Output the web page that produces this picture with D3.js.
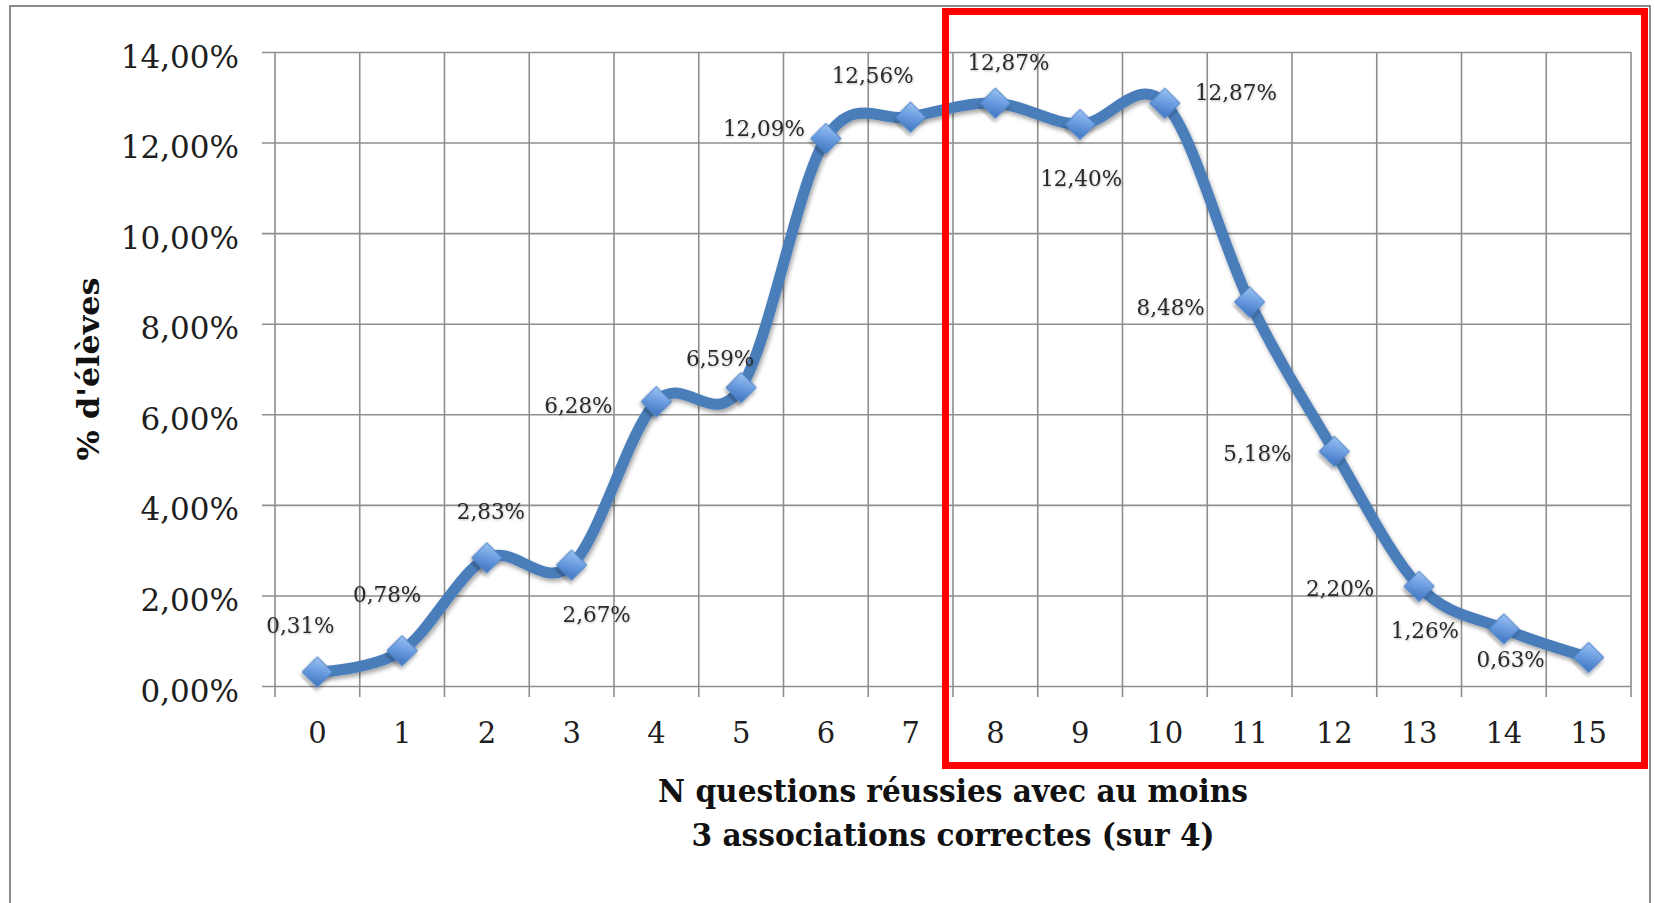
<!DOCTYPE html>
<html>
<head>
<meta charset="utf-8">
<script src="https://cdn.jsdelivr.net/npm/d3@7"></script>
<style>
  html, body { margin: 0; padding: 0; background: #fff; }
  svg { display: block; }
</style>
</head>
<body>
<svg id="chart" width="1655" height="903"></svg>
<script>
// ---- data ----
const categories = ["0","1","2","3","4","5","6","7","8","9","10","11","12","13","14","15"];
const values = [0.31, 0.78, 2.83, 2.67, 6.28, 6.59, 12.09, 12.56, 12.87, 12.40, 12.87, 8.48, 5.18, 2.20, 1.26, 0.63];
const valueLabels = ["0,31%","0,78%","2,83%","2,67%","6,28%","6,59%","12,09%","12,56%","12,87%","12,40%","12,87%","8,48%","5,18%","2,20%","1,26%","0,63%"];
const yTicks = [0, 2, 4, 6, 8, 10, 12, 14];
const yTickLabels = ["0,00%","2,00%","4,00%","6,00%","8,00%","10,00%","12,00%","14,00%"];
const yTitle = "% d'élèves";
const xTitleLines = ["N questions réussies avec au moins", "3 associations correctes (sur 4)"];
const highlightFrom = "8";   // highlighted range (red frame) starts at this category

// label placement offsets (pixels, relative to each point)
const labelOffsets = [[-17,-47],[-15,-57],[4,-47],[25,49],[-78,3],[-21,-30],[-62,-10],[-38,-42],
                      [13,-41],[1,54],[71,-11],[-79,5],[-77,2],[-79,2],[-79,1],[-78,2]];

// ---- layout ----
const svg = d3.select("#chart");
const plot = { left: 275, right: 1631, top: 52, bottom: 686 };
const gridColor = "#8e8e8e";
const serif = "'DejaVu Serif', 'Liberation Serif', serif";

const x = d3.scaleBand().domain(categories).range([plot.left, plot.right]).padding(0);
const y = d3.scaleLinear().domain([0, 14]).range([plot.bottom, plot.top]);

// defs
const defs = svg.append("defs");
const grad = defs.append("linearGradient").attr("id", "mk").attr("x1", "0").attr("y1", "0").attr("x2", "0.6").attr("y2", "1");
grad.append("stop").attr("offset", "0%").attr("stop-color", "#9cc2f2");
grad.append("stop").attr("offset", "55%").attr("stop-color", "#6b9de0");
grad.append("stop").attr("offset", "100%").attr("stop-color", "#4a7ec8");
const sh = defs.append("filter").attr("id", "shadow").attr("x", "-20%").attr("y", "-20%").attr("width", "140%").attr("height", "140%");
sh.append("feDropShadow").attr("dx", 1.5).attr("dy", 3).attr("stdDeviation", 2.2).attr("flood-color", "#000").attr("flood-opacity", 0.35);
const tsh = defs.append("filter").attr("id", "tshadow").attr("x", "-10%").attr("y", "-30%").attr("width", "120%").attr("height", "160%");
tsh.append("feDropShadow").attr("dx", 0.6).attr("dy", 1).attr("stdDeviation", 0.8).attr("flood-color", "#000").attr("flood-opacity", 0.25);

// outer frame
svg.append("path")
  .attr("d", "M10,903 L10,6 L1650,6 L1650,903")
  .attr("fill", "none").attr("stroke", "#8a8a8a").attr("stroke-width", 2);

// horizontal gridlines + y axis
const yAxis = d3.axisLeft(y)
  .tickValues(yTicks)
  .tickFormat((d, i) => yTickLabels[i])
  .tickSize(-(plot.right - plot.left) - 13)
  .tickPadding(0);
const gy = svg.append("g").attr("transform", `translate(${plot.right},0)`).call(yAxis);
gy.select(".domain").remove();
gy.selectAll(".tick line").attr("stroke", gridColor).attr("stroke-width", 1.6)
  .attr("x1", 0).attr("x2", -(plot.right - plot.left) - 13).attr("transform", null);
gy.selectAll(".tick text")
  .attr("x", -(plot.right - 239)).attr("dy", null).attr("y", 15)
  .attr("text-anchor", "end")
  .attr("font-family", serif).attr("font-size", 31).attr("fill", "#1e1e1e");

// vertical gridlines at band boundaries (plus ticks below axis)
const boundaries = categories.map(c => x(c)).concat([x(categories[categories.length - 1]) + x.bandwidth()]);
svg.append("g").selectAll("line").data(boundaries).join("line")
  .attr("x1", d => d).attr("x2", d => d)
  .attr("y1", plot.top).attr("y2", plot.bottom + 11)
  .attr("stroke", gridColor).attr("stroke-width", 1.6);

// x axis labels
const xAxis = d3.axisBottom(x).tickSize(0).tickPadding(0);
const gx = svg.append("g").attr("transform", `translate(0,${plot.bottom})`).call(xAxis);
gx.select(".domain").remove();
gx.selectAll(".tick text").attr("dy", null).attr("y", 57)
  .attr("font-family", serif).attr("font-size", 29).attr("fill", "#1e1e1e");

// smooth line
const cx = (c) => x(c) + x.bandwidth() / 2;
const pts = categories.map((c, i) => [cx(c), y(values[i])]);
svg.append("path")
  .datum(pts)
  .attr("d", d3.line().curve(d3.curveCatmullRom.alpha(0)))
  .attr("fill", "none").attr("stroke", "#4a7ebb").attr("stroke-width", 11)
  .attr("stroke-linecap", "round").attr("stroke-linejoin", "round")
  .attr("filter", "url(#shadow)");

// diamond markers
const diamond = d3.symbol().type(d3.symbolSquare).size(21.5 * 21.5);
svg.append("g").selectAll("path").data(pts).join("path")
  .attr("d", diamond)
  .attr("transform", d => `translate(${d[0]},${d[1]}) rotate(45)`)
  .attr("fill", "url(#mk)").attr("stroke", "#4f84c6").attr("stroke-width", 1)
  .attr("filter", "url(#shadow)");

// data labels
svg.append("g").selectAll("text").data(pts).join("text")
  .attr("x", (d, i) => d[0] + labelOffsets[i][0])
  .attr("y", (d, i) => d[1] + labelOffsets[i][1] + 8)
  .attr("text-anchor", "middle")
  .attr("font-family", serif).attr("font-size", 21.5).attr("fill", "#2a2a2a")
  .attr("filter", "url(#tshadow)")
  .text((d, i) => valueLabels[i]);

// axis titles
svg.append("text")
  .attr("transform", "translate(99,369) rotate(-90)")
  .attr("text-anchor", "middle")
  .attr("font-family", serif).attr("font-weight", "bold").attr("font-size", 30)
  .attr("textLength", 183).attr("lengthAdjust", "spacingAndGlyphs")
  .attr("fill", "#111")
  .text(yTitle);

const titleLens = [590, 523];
svg.append("g").selectAll("text").data(xTitleLines).join("text")
  .attr("x", 953).attr("y", (d, i) => 802 + i * 44)
  .attr("text-anchor", "middle")
  .attr("font-family", serif).attr("font-weight", "bold").attr("font-size", 31)
  .attr("textLength", (d, i) => titleLens[i]).attr("lengthAdjust", "spacingAndGlyphs")
  .attr("fill", "#111")
  .text(d => d);

// red highlight frame around categories 8..15
const hx0 = x(highlightFrom) - 7.5;
svg.append("rect")
  .attr("x", hx0).attr("y", 11.5)
  .attr("width", 1644.5 - hx0).attr("height", 754)
  .attr("fill", "none").attr("stroke", "#ff0000").attr("stroke-width", 7);
</script>
</body>
</html>
